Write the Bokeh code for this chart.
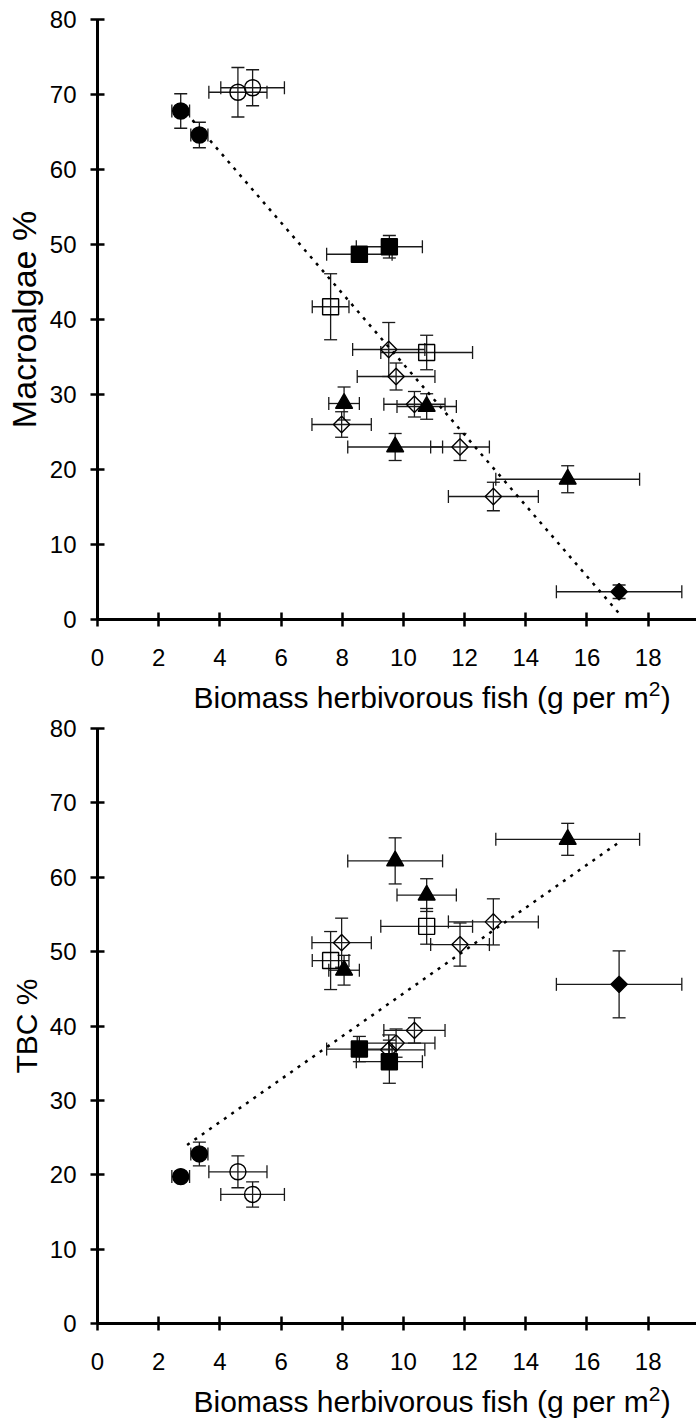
import numpy as np
from bokeh.plotting import figure
from bokeh.models import ColumnDataSource, Whisker, TeeHead, Range1d, FixedTicker
from bokeh.layouts import column
from bokeh.core.properties import value
from bokeh.embed import file_html
from bokeh.resources import INLINE

# ---------------- data ----------------
# x: biomass of herbivorous fish (g per m2), shared by both panels
fc_x = [2.72, 3.33]
fc_xerr = [0.29, 0.28]
oc_x = [4.59, 5.07]
oc_xerr = [0.95, 1.04]
fs_x = [8.56, 9.54]
fs_xerr = [1.07, 1.08]
os_x = [7.62, 10.76]
os_xerr = [0.60, 1.50]
ft_x = [8.06, 10.76, 9.73, 15.37]
ft_xerr = [0.50, 0.97, 1.55, 2.35]
od_x = [9.52, 9.76, 7.98, 10.36, 11.85, 12.94]
od_xerr = [1.18, 1.27, 0.97, 1.00, 0.96, 1.47]
fd_x = [17.05]
fd_xerr = [2.05]

# top panel: Macroalgae %
macro_fc = [67.8, 64.6]
macro_fc_err = [2.3, 1.7]
macro_oc = [70.3, 70.9]
macro_oc_err = [3.3, 2.4]
macro_fs = [48.7, 49.7]
macro_fs_err = [0.9, 1.5]
macro_os = [41.7, 35.6]
macro_os_err = [4.4, 2.3]
macro_ft = [28.8, 28.4, 23.0, 18.7]
macro_ft_err = [2.2, 1.7, 1.8, 1.8]
macro_od = [36.0, 32.4, 26.0, 28.7, 23.0, 16.4]
macro_od_err = [3.6, 1.8, 1.7, 1.7, 1.8, 1.9]
macro_fd = [3.7]
macro_fd_err = [0.9]
macro_trend_x = [2.72, 17.05]
macro_trend_y = [68.4, 0.8]

# bottom panel: TBC %
tbc_fc = [19.75, 22.8]
tbc_fc_err = [0.5, 1.6]
tbc_oc = [20.4, 17.35]
tbc_oc_err = [2.15, 1.7]
tbc_fs = [36.9, 35.2]
tbc_fs_err = [1.7, 2.9]
tbc_os = [48.8, 53.4]
tbc_os_err = [3.9, 2.4]
tbc_ft = [47.5, 57.6, 62.2, 65.1]
tbc_ft_err = [2.0, 2.2, 3.1, 2.15]
tbc_od = [36.8, 37.7, 51.2, 39.4, 50.95, 54.0]
tbc_od_err = [2.0, 1.9, 3.3, 1.7, 2.9, 3.1]
tbc_fd = [45.6]
tbc_fd_err = [4.5]
tbc_trend_x = [2.93, 17.05]
tbc_trend_y = [24.0, 64.7]

x_ticks = [0, 2, 4, 6, 8, 10, 12, 14, 16, 18]
y_ticks = [0, 10, 20, 30, 40, 50, 60, 70, 80]
x_title = "Biomass herbivorous fish (g per m"
x_title_sup = "2"
x_title_end = ")"

X_END = 19.58
FONT = "Liberation Sans"
EC = "#1a1a1a"

# marker styles: (marker, size, filled, angle)
styles = {
    "fc": ("circle", 16, True, 0.0),
    "oc": ("circle", 16, False, 0.0),
    "fs": ("square", 16, True, 0.0),
    "os": ("square", 16, False, 0.0),
    "ft": ("triangle", 17, True, 0.0),
    "od": ("square", 11.5, False, np.pi / 4),
    "fd": ("square", 11.5, True, np.pi / 4),
}
xs = {"fc": (fc_x, fc_xerr), "oc": (oc_x, oc_xerr), "fs": (fs_x, fs_xerr),
      "os": (os_x, os_xerr), "ft": (ft_x, ft_xerr), "od": (od_x, od_xerr),
      "fd": (fd_x, fd_xerr)}
macro = {"fc": (macro_fc, macro_fc_err), "oc": (macro_oc, macro_oc_err),
         "fs": (macro_fs, macro_fs_err), "os": (macro_os, macro_os_err),
         "ft": (macro_ft, macro_ft_err), "od": (macro_od, macro_od_err),
         "fd": (macro_fd, macro_fd_err)}
tbc = {"fc": (tbc_fc, tbc_fc_err), "oc": (tbc_oc, tbc_oc_err),
       "fs": (tbc_fs, tbc_fs_err), "os": (tbc_os, tbc_os_err),
       "ft": (tbc_ft, tbc_ft_err), "od": (tbc_od, tbc_od_err),
       "fd": (tbc_fd, tbc_fd_err)}


def head():
    return TeeHead(size=13, line_color=EC, line_width=1.3)


def make_panel(ydata, trend_x, trend_y, ylabel, ylabel_size, height, top, bottom):
    p = figure(width=696, height=height, x_range=Range1d(0, X_END), y_range=Range1d(0, 80),
               output_backend="svg", toolbar_location=None, title=None,
               min_border_left=97, min_border_right=0,
               min_border_top=top, min_border_bottom=bottom)
    p.outline_line_color = None
    p.grid.visible = False
    p.background_fill_color = "white"
    p.border_fill_color = "white"

    for key in styles:
        x, xe = xs[key]
        y, ye = ydata[key]
        src = ColumnDataSource(dict(
            x=x, y=y,
            xlo=[a - b for a, b in zip(x, xe)], xhi=[a + b for a, b in zip(x, xe)],
            ylo=[a - b for a, b in zip(y, ye)], yhi=[a + b for a, b in zip(y, ye)]))
        p.add_layout(Whisker(source=src, base="y", lower="xlo", upper="xhi", dimension="width",
                             line_color=EC, line_width=1.3,
                             upper_head=head(), lower_head=head()))
        p.add_layout(Whisker(source=src, base="x", lower="ylo", upper="yhi", dimension="height",
                             line_color=EC, line_width=1.3,
                             upper_head=head(), lower_head=head()))

    p.line(trend_x, trend_y, line_color="black", line_width=2.5, line_dash="3 6")

    for key, (mk, size, filled, ang) in styles.items():
        x, _ = xs[key]
        y, _ = ydata[key]
        p.scatter(x, y, marker=mk, size=size, angle=ang,
                  fill_color="black" if filled else None,
                  line_color="black", line_width=1.4)

    xa = p.xaxis[0]
    ya = p.yaxis[0]
    xa.ticker = FixedTicker(ticks=x_ticks)
    ya.ticker = FixedTicker(ticks=y_ticks)
    for ax in (xa, ya):
        ax.axis_line_width = 3
        ax.axis_line_color = "black"
        ax.major_tick_line_width = 2.5
        ax.major_tick_line_color = "black"
        ax.major_tick_in = 7
        ax.major_tick_out = 7
        ax.minor_tick_line_color = None
        ax.major_label_text_font = FONT
        ax.major_label_text_font_size = "24px"
        ax.major_label_text_color = "black"
    xa.major_label_standoff = 22
    ya.major_label_standoff = 14
    ya.axis_label = ylabel
    ya.axis_label_text_font = FONT
    ya.axis_label_text_font_size = ylabel_size
    ya.axis_label_text_font_style = "normal"
    ya.axis_label_text_color = "black"
    ya.axis_label_standoff = 4
    return p


def make_title_strip(height, main_top, sup_top):
    # strip in pixel-like units holding the x-axis title with its superscript
    s = figure(width=696, height=height, x_range=Range1d(0, 696), y_range=Range1d(0, height),
               output_backend="svg", toolbar_location=None, title=None,
               min_border_left=0, min_border_right=0, min_border_top=0, min_border_bottom=0,
               x_axis_type=None, y_axis_type=None, frame_align=False)
    s.outline_line_color = None
    s.grid.visible = False
    left = 193
    main_w = 15.171 * 30
    s.text(x=[left], y=[main_top], text=[x_title], text_font=value(FONT),
           text_font_size=value("30px"), text_align="left", text_baseline="top",
           text_color="black")
    s.text(x=[left + main_w], y=[sup_top], text=[x_title_sup], text_font=value(FONT),
           text_font_size=value("21px"), text_align="left", text_baseline="top",
           text_color="black")
    s.text(x=[left + main_w + 12], y=[main_top], text=[x_title_end], text_font=value(FONT),
           text_font_size=value("30px"), text_align="left", text_baseline="top",
           text_color="black")
    return s


p1 = make_panel(macro, macro_trend_x, macro_trend_y, "Macroalgae %", "34px",
                height=676, top=19, bottom=57)
s1 = make_title_strip(38, 34, 33)
p2 = make_panel(tbc, tbc_trend_x, tbc_trend_y, "TBC %", "30px",
                height=666, top=14, bottom=57)
s2 = make_title_strip(41, 37, 35)

layout = column(p1, s1, p2, s2, spacing=0)
open("out.html", "w").write(file_html(layout, INLINE))
